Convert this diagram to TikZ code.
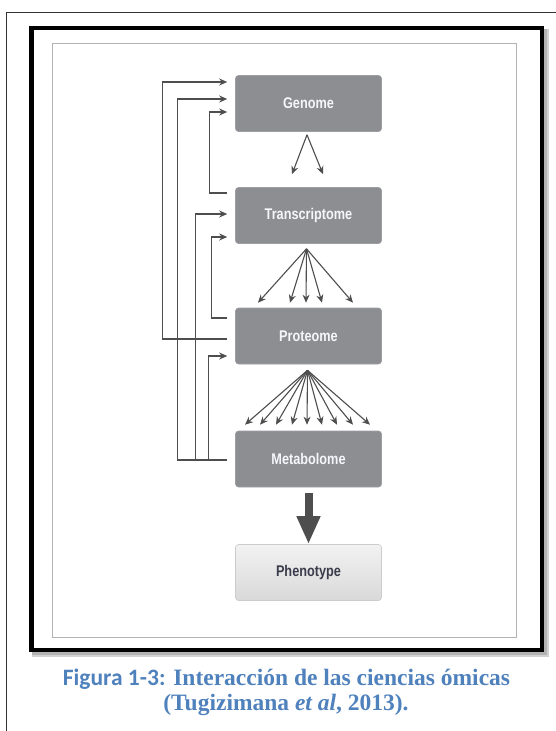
\documentclass[tikz,border=0pt]{standalone}
\usepackage{fontspec}
\usetikzlibrary{arrows.meta,calc}
\setmainfont{Liberation Serif}
\newfontfamily\boxfont[FakeStretch=0.82]{Liberation Sans}
\newfontfamily\capsans{Carlito}
\definecolor{boxgray}{HTML}{8D8E92}
\definecolor{linegray}{HTML}{4E4E4E}
\definecolor{capblue}{HTML}{4F81BD}
\definecolor{boxtext}{HTML}{F3F6FB}
\definecolor{phtext}{HTML}{3A3C4C}
\tikzset{
  omic/.style={rectangle, rounded corners=3pt, minimum width=146pt, minimum height=56pt,
    fill=boxgray, draw=boxgray!85!white, line width=0.6pt, text=boxtext,
    font=\boxfont\bfseries\fontsize{15.5}{17}\selectfont},
  pheno/.style={rectangle, rounded corners=3pt, minimum width=146pt, minimum height=56pt,
    top color=white!95!black, bottom color=white!85!black, draw=white!80!black,
    line width=0.6pt, text=phtext, font=\boxfont\bfseries\fontsize{15.5}{17}\selectfont},
  arr/.style={draw=linegray, line width=1.1pt, -{Stealth[length=8pt,width=7pt]}},
  back/.style={draw=linegray, line width=1.1pt, -{Stealth[length=8pt,width=7pt]}},
  caption/.style={text=capblue, font=\bfseries\fontsize{23.5}{25}\selectfont}
}
\begin{document}
\begin{tikzpicture}[x=1pt,y=-1pt]
\useasboundingbox (0,0) rectangle (556,731);
\fill[white] (0,0) rectangle (556,731);
% page edge
\draw[black!80, line width=0.9pt] (556,12) -- (6,12) -- (6,731);
% framed figure with soft shadow
\draw[black!18, line width=6pt] (35,32) rectangle (546,654);
\draw[black!30, line width=4pt] (34,31) rectangle (545,653);
\draw[black, line width=4.8pt, fill=white] (31.5,28) rectangle (542,650);
\draw[black!30, line width=1.2pt] (52.5,43.5) rectangle (516.5,637.5);

% omics layers
\node[omic] (g) at (308.5,103.5) {Genome};
\node[omic] (t) at (308.5,215.5) {Transcriptome};
\node[omic] (p) at (308.5,336) {Proteome};
\node[omic] (m) at (308.5,459) {Metabolome};
\node[pheno] (ph) at (308.5,572.5) {Phenotype};

% forward fans
\foreach \dx in {-16.5,14.5}
  \draw[arr] ([shift={(-1.5,3)}]g.south) -- ([shift={(\dx,-13)}]t.north);
\foreach \dx in {-50.5,-18.5,-2.5,13.5,44.5}
  \draw[arr] ([shift={(-2,5)}]t.south) -- ([shift={(\dx,-5)}]p.north);
\foreach \dx in {-63.5,-48.5,-32.5,-16.5,-1.5,13.5,28.5,44.5,61.5}
  \draw[arr] ([shift={(-1,6)}]p.south) -- ([shift={(\dx,-6)}]m.north);

% metabolome to phenotype
\draw[draw=linegray, line width=8pt, -{Triangle[length=28pt,width=22pt]}, shorten <=6pt]
  (m.south) -- (ph.north);

% feedback loops
\draw[back] ([shift={(-8,3)}]p.west) -- ++(-65,0) |- ([shift={(-8,-21.5)}]g.west);
\draw[back] ([shift={(-8,1)}]m.west) -- ++(-50,0) |- ([shift={(-8,-4.5)}]g.west);
\draw[back] ([shift={(-8,-22.5)}]t.west) -- ++(-18,0) |- ([shift={(-8,8.5)}]g.west);
\draw[back] ([shift={(-8,1)}]m.west) -- ++(-32,0) |- ([shift={(-8,-1.5)}]t.west);
\draw[back] ([shift={(-8,-18)}]p.west) -- ++(-16,0) |- ([shift={(-8,21.5)}]t.west);
\draw[back] ([shift={(-8,1)}]m.west) -- ++(-19,0) |- ([shift={(-8,20)}]p.west);

% caption
\node[caption, anchor=base] (cap1) at (286.5,685)
  {{\capsans Figura 1-3:} Interacción de las ciencias ómicas};
\node[caption, anchor=base] (cap2) at (286,710)
  {(Tugizimana \textit{et al}, 2013).};
\end{tikzpicture}
\end{document}
